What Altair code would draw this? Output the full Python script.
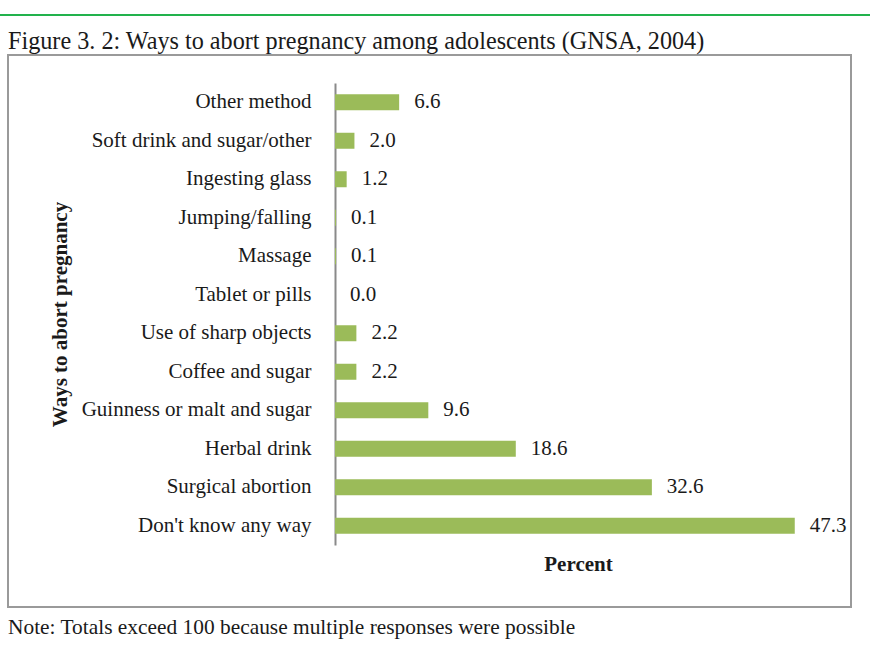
import altair as alt
import pandas as pd

# Ways to abort pregnancy among adolescents (GNSA, 2004), percent of respondents
methods = [
    "Other method",
    "Soft drink and sugar/other",
    "Ingesting glass",
    "Jumping/falling",
    "Massage",
    "Tablet or pills",
    "Use of sharp objects",
    "Coffee and sugar",
    "Guinness or malt and sugar",
    "Herbal drink",
    "Surgical abortion",
    "Don't know any way",
]
percents = [6.6, 2.0, 1.2, 0.1, 0.1, 0.0, 2.2, 2.2, 9.6, 18.6, 32.6, 47.3]

title_text = "Figure 3. 2: Ways to abort pregnancy among adolescents (GNSA, 2004)"
note_text = "Note: Totals exceed 100 because multiple responses were possible"

df = pd.DataFrame({"method": methods, "percent": percents})

FONT = "Liberation Serif"
BAR_COLOR = "#9bbb59"
TEXT_COLOR = "#1a1a1a"

y_enc = alt.Y(
    "method:N",
    sort=methods,
    scale=alt.Scale(paddingInner=0, paddingOuter=0),
    axis=alt.Axis(
        title="Ways to abort pregnancy",
        titleFont=FONT,
        titleFontSize=21,
        titleFontWeight="bold",
        titleColor=TEXT_COLOR,
        titleX=-275,
        titleY=231,
        titleAngle=-90,
        titleAlign="center",
        titleBaseline="middle",
        labelFont=FONT,
        labelFontSize=21,
        labelColor=TEXT_COLOR,
        labelPadding=24,
        labelLimit=400,
        ticks=False,
        domainColor="#8a8a8a",
        domainWidth=2,
        grid=False,
    ),
)

x_enc = alt.X(
    "percent:Q",
    scale=alt.Scale(domain=[0, 50], nice=False),
    axis=alt.Axis(
        title="Percent",
        titleFont=FONT,
        titleFontSize=21,
        titleFontWeight="bold",
        titleColor=TEXT_COLOR,
        titlePadding=8,
        labels=False,
        ticks=False,
        domain=False,
        grid=False,
    ),
)

base = alt.Chart(df)

bars = base.mark_bar(color=BAR_COLOR, size=16).encode(x=x_enc, y=y_enc)

values = base.mark_text(
    align="left", baseline="middle", dx=15, font=FONT, fontSize=21, color=TEXT_COLOR
).encode(
    x=alt.X("percent:Q"),
    y=alt.Y("method:N", sort=methods),
    text=alt.Text("percent:Q", format=".1f"),
)

# page decorations: green rule, figure caption, frame and footnote
deco = alt.Chart(pd.DataFrame({"k": [0]}))

green_rule = deco.mark_rule(color="#22b24c", strokeWidth=2).encode(
    x=alt.value(-335), x2=alt.value(535), y=alt.value(-68)
)

frame = deco.mark_rect(fill=None, stroke="#9a9a9a", strokeWidth=2).encode(
    x=alt.value(-327), x2=alt.value(516), y=alt.value(-28), y2=alt.value(524)
)

caption = deco.mark_text(
    text=title_text, align="left", baseline="middle", font=FONT, fontSize=24.2, color=TEXT_COLOR
).encode(x=alt.value(-327), y=alt.value(-41))

note = deco.mark_text(
    text=note_text, align="left", baseline="middle", font=FONT, fontSize=21.4, color=TEXT_COLOR
).encode(x=alt.value(-327), y=alt.value(545))

chart = (
    alt.layer(frame, green_rule, caption, note, bars, values)
    .properties(
        width=486,
        height=462,
        autosize=alt.AutoSizeParams(type="none"),
        padding={"left": 335, "top": 83, "right": 49, "bottom": 117},
        background="white",
    )
    .configure_view(stroke=None)
)

chart.save("out.html", embed_options={"renderer": "svg", "actions": False})
